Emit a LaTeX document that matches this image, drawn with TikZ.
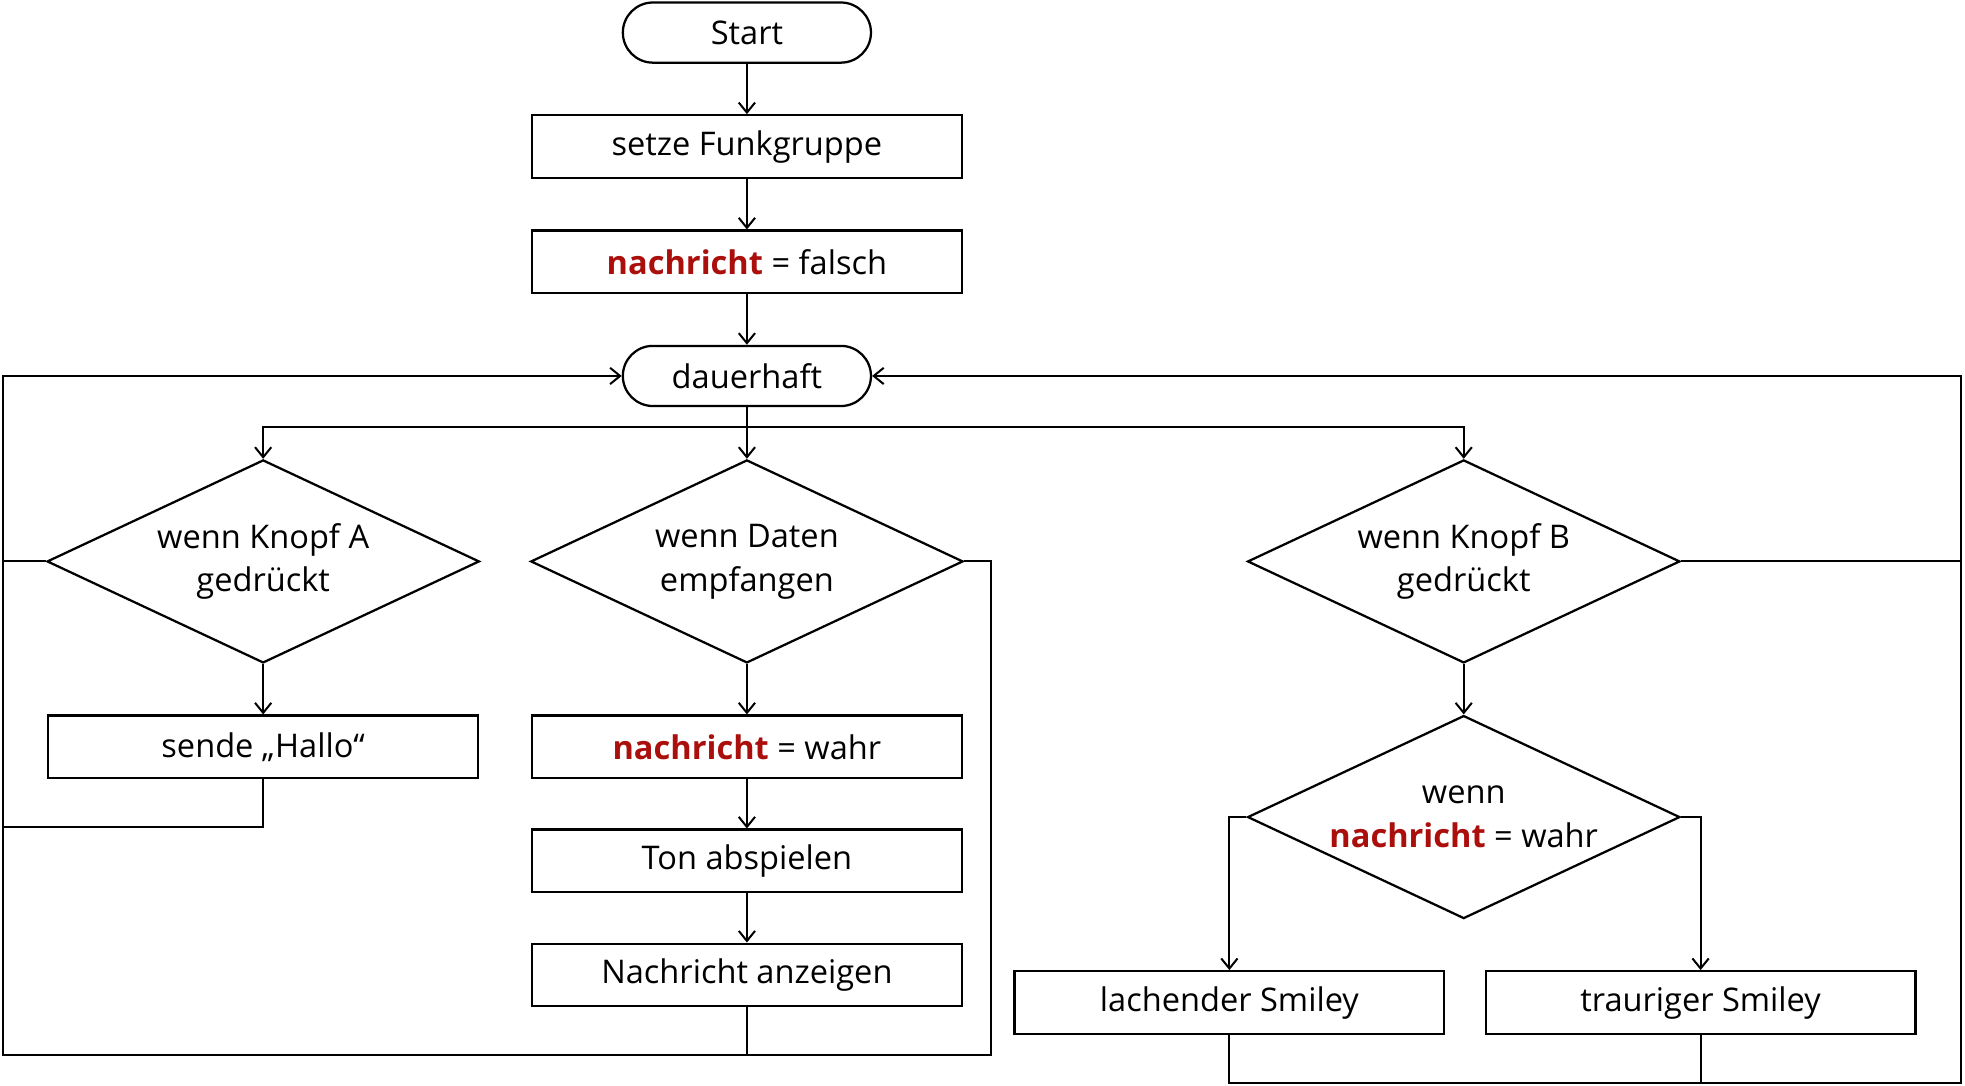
\documentclass[tikz,border=0pt]{standalone}
\usepackage{fontspec}
\setmainfont{Open Sans}
\usepackage{tikz}
\usetikzlibrary{shapes.geometric,arrows.meta}
\definecolor{varrot}{RGB}{170,15,12}
\newcommand{\nachricht}{\textcolor{varrot}{\textbf{nachricht}}}

\begin{document}
\begin{tikzpicture}[x=0.5pt, y=-0.5pt, line width=0.8pt, >={Straight Barb[length=4pt,width=6.5pt]},
	every node/.style={font=\fontsize{13}{17.5}\selectfont, inner sep=0pt, line width=0.9pt},
	schritt/.style={rectangle, draw, minimum width=171.5pt, minimum height=25pt},
	rund/.style={rectangle, rounded corners=12pt, draw, minimum width=99pt, minimum height=24pt},
	frage/.style={diamond, draw, aspect=2.13, minimum width=172.5pt, minimum height=81pt, align=center}]
\useasboundingbox (0,0) rectangle (1568,866);

\node[rund] (start) at (596,26) {Start};
\node[schritt] (gruppe) at (596,117) {setze Funkgruppe};
\node[schritt] (falsch) at (596,209) {\nachricht{} = falsch};
\node[rund] (dauer) at (596,300) {dauerhaft};

\node[frage] (knopfA) at (210,448) {wenn Knopf A\\gedrückt};
\node[frage] (daten) at (596,448) {wenn Daten\\empfangen};
\node[frage] (knopfB) at (1168,448) {wenn Knopf B\\gedrückt};

\node[schritt] (hallo) at (210,596) {sende „Hallo“};
\node[schritt] (wahr) at (596,596) {\nachricht{} = wahr};
\node[schritt] (ton) at (596,687) {Ton abspielen};
\node[schritt] (anzeigen) at (596,778) {Nachricht anzeigen};

\node[frage] (pruefe) at (1168,652) {wenn\\\nachricht{} = wahr};
\node[schritt] (lachend) at (981,800) {lachender Smiley};
\node[schritt] (traurig) at (1357,800) {trauriger Smiley};

\coordinate (gabel) at (596,341);
\coordinate (links) at (2,842);
\coordinate (rechts) at (1565,864);

\path[->]
(start) edge (gruppe)
(gruppe) edge (falsch)
(falsch) edge (dauer)
(dauer) edge (daten)
(knopfA) edge (hallo)
(daten) edge (wahr)
(wahr) edge (ton)
(ton) edge (anzeigen)
(knopfB) edge (pruefe)
;
\draw[->] (gabel) -| (knopfA.north);
\draw[->] (gabel) -| (knopfB.north);
\draw[->] (pruefe.west) -| (lachend.north);
\draw[->] (pruefe.east) -| (traurig.north);

\draw[->] (anzeigen.south) |- (links) |- (dauer.west);
\draw (knopfA.west) -- (knopfA.west -| links);
\draw (hallo.south) -- ++(0,38) -| (links);
\draw (daten.east) -- ++(21,0) |- (anzeigen.south |- links);

\draw[->] (lachend.south) |- (rechts) |- (dauer.east);
\draw (traurig.south) -- (traurig.south |- rechts);
\draw (knopfB.east) -- (knopfB.east -| rechts);
\end{tikzpicture}
\end{document}
